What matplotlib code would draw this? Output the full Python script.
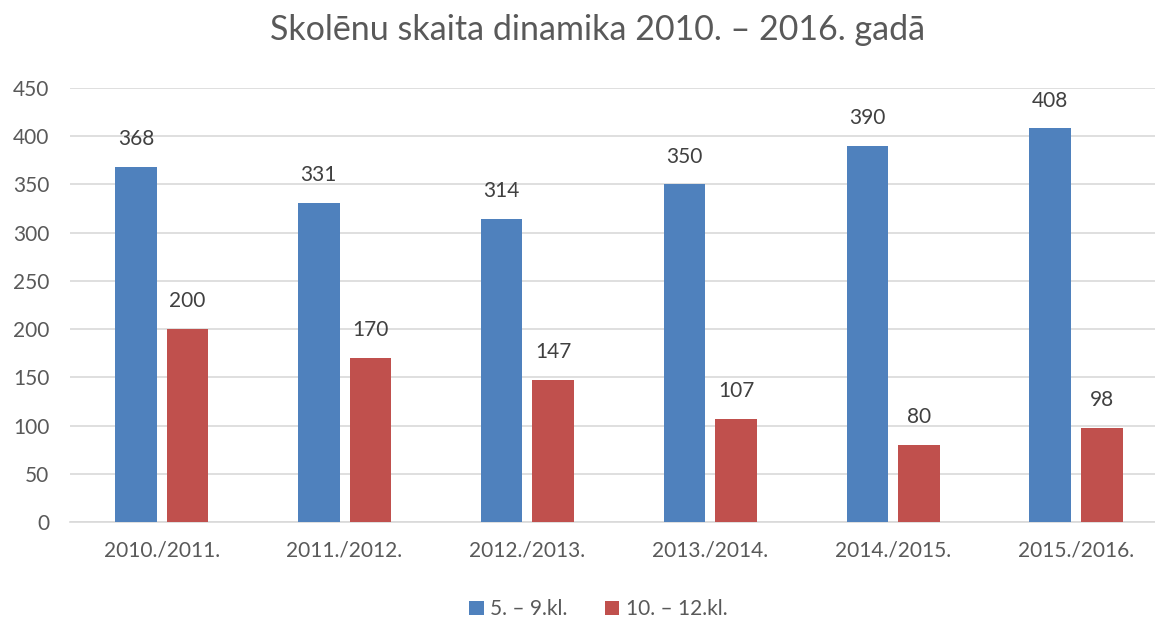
import matplotlib
matplotlib.use("Agg")
import matplotlib.pyplot as plt
import numpy as np

categories = ["2010./2011.", "2011./2012.", "2012./2013.", "2013./2014.", "2014./2015.", "2015./2016."]
series_names = ["5. – 9.kl.", "10. – 12.kl."]
values_5_9 = [368, 331, 314, 350, 390, 408]
values_10_12 = [200, 170, 147, 107, 80, 98]
title = "Skolēnu skaita dinamika 2010. – 2016. gadā"

plt.rcParams['font.family'] = ['Lato', 'DejaVu Sans']
text_color = "#595959"
colors = ["#4F81BD", "#C0504D"]

fig = plt.figure(figsize=(11.55, 6.23), dpi=100)
ax = fig.add_axes([0.0608, 0.162, 0.950, 0.697])

x = np.arange(len(categories))
w = 0.227
off = 0.141
b1 = ax.bar(x - off, values_5_9, w, color=colors[0], label=series_names[0], zorder=3)
b2 = ax.bar(x + off, values_10_12, w, color=colors[1], label=series_names[1], zorder=3)

for bars in (b1, b2):
    for r in bars:
        ax.annotate(f"{int(r.get_height())}", (r.get_x() + r.get_width() / 2, r.get_height()),
                    xytext=(0, 20), textcoords="offset points", ha="center", va="center",
                    fontsize=15, color="#404040")

ax.set_xlim(-0.5, len(categories) - 0.5)
ax.set_ylim(0, 450)
ax.set_yticks(range(0, 451, 50))
ax.yaxis.grid(True, color="#D9D9D9", linewidth=1.2, zorder=0)
ax.set_xticks(x)
ax.set_xticklabels(categories)
ax.tick_params(axis="both", length=0, labelsize=15, labelcolor=text_color)
ax.tick_params(axis="x", pad=13)
ax.tick_params(axis="y", pad=15)
for s in ["top", "right", "left"]:
    ax.spines[s].set_visible(False)
ax.spines["bottom"].set_color("#D9D9D9")
ax.spines["bottom"].set_linewidth(1.2)

fig.text(0.517, 0.952, title, ha="center", va="center", fontsize=24.5, color=text_color)

fig.legend(loc="center", bbox_to_anchor=(0.518, 0.022), ncol=2, frameon=False,
           fontsize=15, labelcolor=text_color, handlelength=0.7, handleheight=0.7,
           handletextpad=0.3, columnspacing=1.8)

fig.savefig("out.png", dpi=100)
